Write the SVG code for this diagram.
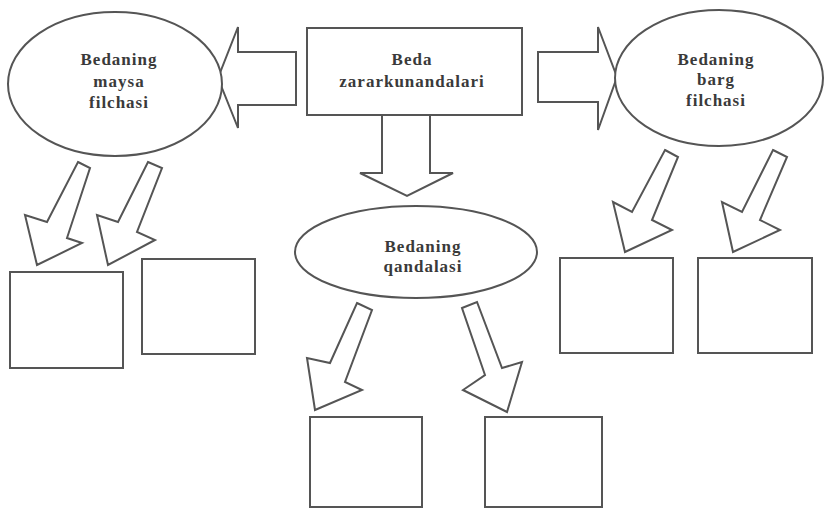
<svg xmlns="http://www.w3.org/2000/svg" width="824" height="508" viewBox="0 0 824 508">
<style>
.shape{fill:#fff;stroke:#555;stroke-width:2;stroke-linejoin:miter}
.arrow{fill:#fff;stroke:#555;stroke-width:2;stroke-linejoin:miter}
.lbl{font-family:"Liberation Serif","Times New Roman",serif;font-weight:bold;font-size:17px;letter-spacing:1px;fill:#3a3a3a;text-anchor:middle}
</style>
<rect width="824" height="508" fill="#fff"/>
<g id="connectors">
<polygon class="arrow" points="296,52 238,52 238,27 218,78 238,128 238,105 296,105"/>
<polygon class="arrow" points="538,52 598,52 598,27 617,77 598,130 598,102 538,102"/>
<polygon class="arrow" points="382,115 430,115 430,173 453,173 407,196 360,173 382,173"/>
<polygon class="arrow" points="78,162 90,168 67,238 82,243 37,265 25,215 47,222"/>
<polygon class="arrow" points="148,162 162,168 137,232 155,240 108,265 97,215 118,222"/>
<polygon class="arrow" points="665,150 678,157 652,220 672,230 625,252 613,202 632,212"/>
<polygon class="arrow" points="773,150 787,157 760,220 780,230 733,252 722,202 742,212"/>
<polygon class="arrow" points="357,303 372,310 345,382 362,390 315,410 307,358 330,363"/>
<polygon class="arrow" points="462,308 477,302 502,368 522,362 507,412 463,390 485,375"/>
</g>
<g id="node-center">
<rect class="shape" x="307" y="28" width="215" height="87"/>
<text class="lbl" x="412" y="65">Beda</text>
<text class="lbl" x="412" y="87">zararkunandalari</text>
</g>
<g id="node-maysa">
<ellipse class="shape" cx="115" cy="84" rx="107" ry="72"/>
<text class="lbl" x="119" y="65">Bedaning</text>
<text class="lbl" x="119" y="87">maysa</text>
<text class="lbl" x="119" y="108">filchasi</text>
</g>
<g id="node-barg">
<ellipse class="shape" cx="719" cy="78" rx="104" ry="68"/>
<text class="lbl" x="716" y="65">Bedaning</text>
<text class="lbl" x="716" y="85">barg</text>
<text class="lbl" x="716" y="106">filchasi</text>
</g>
<g id="node-qandalasi">
<ellipse class="shape" cx="416" cy="252" rx="121" ry="46"/>
<text class="lbl" x="423" y="252">Bedaning</text>
<text class="lbl" x="423" y="272">qandalasi</text>
</g>
<g id="box-1"><rect class="shape" x="10" y="272" width="113" height="96"/></g>
<g id="box-2"><rect class="shape" x="142" y="259" width="113" height="95"/></g>
<g id="box-3"><rect class="shape" x="560" y="258" width="113" height="95"/></g>
<g id="box-4"><rect class="shape" x="698" y="258" width="114" height="95"/></g>
<g id="box-5"><rect class="shape" x="310" y="417" width="112" height="90"/></g>
<g id="box-6"><rect class="shape" x="485" y="417" width="117" height="90"/></g>
</svg>
